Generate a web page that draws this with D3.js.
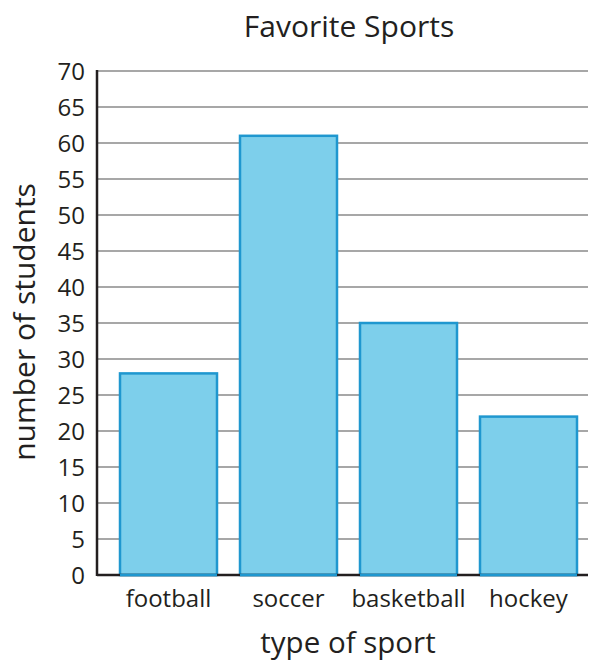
<!DOCTYPE html>
<html lang="en">
<head>
    <meta charset="UTF-8">
    <title>Favorite Sports</title>
    <script src="https://d3js.org/d3.v7.min.js"></script>
    <style>
        body { margin: 0; background: #fff; }
        text { font-family: "Open Sans", sans-serif; fill: #231f20; }
    </style>
</head>
<body>
    <div id="chart"></div>
    <script>
        const sports = ["football", "soccer", "basketball", "hockey"];
        const students = [28, 61, 35, 22];
        const yTicks = [0, 5, 10, 15, 20, 25, 30, 35, 40, 45, 50, 55, 60, 65, 70];

        const W = 590, H = 663;
        const plotLeft = 97, plotRight = 588, plotTop = 71, plotBottom = 575;

        const svg = d3.select("#chart")
            .append("svg")
            .attr("width", W)
            .attr("height", H);

        const y = d3.scaleLinear().domain([0, 70]).range([plotBottom, plotTop]);
        const x = d3.scaleBand()
            .domain(sports)
            .range([plotLeft, 600])
            .paddingInner(23 / 120)
            .paddingOuter(23 / 120);

        // grid lines
        svg.append("g")
            .selectAll("line")
            .data(yTicks.filter(d => d > 0))
            .join("line")
            .attr("x1", plotLeft)
            .attr("x2", plotRight)
            .attr("y1", d => y(d))
            .attr("y2", d => y(d))
            .attr("stroke", "#8a8a8a")
            .attr("stroke-width", 1.3);

        // y tick labels
        svg.append("g")
            .selectAll("text")
            .data(yTicks)
            .join("text")
            .attr("x", 85)
            .attr("y", d => y(d))
            .attr("dy", "0.36em")
            .attr("text-anchor", "end")
            .style("font-size", "24px")
            .text(d => d);

        // bars
        svg.append("g")
            .selectAll("rect")
            .data(sports)
            .join("rect")
            .attr("x", d => x(d))
            .attr("y", (d, i) => y(students[i]))
            .attr("width", x.bandwidth())
            .attr("height", (d, i) => y(0) - y(students[i]))
            .attr("fill", "#7dcfeb")
            .attr("stroke", "#1f97cf")
            .attr("stroke-width", 2.5);

        // axes lines
        svg.append("line")
            .attr("x1", plotLeft).attr("x2", plotLeft)
            .attr("y1", plotTop - 1).attr("y2", plotBottom + 1)
            .attr("stroke", "#231f20").attr("stroke-width", 2.5);
        svg.append("line")
            .attr("x1", plotLeft).attr("x2", plotRight)
            .attr("y1", plotBottom).attr("y2", plotBottom)
            .attr("stroke", "#231f20").attr("stroke-width", 2.5);
        // bar bottoms over the baseline
        svg.append("g")
            .selectAll("line")
            .data(sports)
            .join("line")
            .attr("x1", d => x(d))
            .attr("x2", d => x(d) + x.bandwidth())
            .attr("y1", plotBottom).attr("y2", plotBottom)
            .attr("stroke", "#1f97cf").attr("stroke-width", 2.5);

        // x tick labels
        svg.append("g")
            .selectAll("text")
            .data(sports)
            .join("text")
            .attr("x", d => x(d) + x.bandwidth() / 2)
            .attr("y", 607)
            .attr("text-anchor", "middle")
            .style("font-size", "24px")
            .text(d => d);

        // title
        svg.append("text")
            .attr("x", 349)
            .attr("y", 37)
            .attr("text-anchor", "middle")
            .style("font-size", "30px")
            .text("Favorite Sports");

        // axis titles
        svg.append("text")
            .attr("x", 348)
            .attr("y", 653)
            .attr("text-anchor", "middle")
            .style("font-size", "29.5px")
            .text("type of sport");

        svg.append("text")
            .attr("transform", "translate(35,322) rotate(-90)")
            .attr("text-anchor", "middle")
            .style("font-size", "30px")
            .text("number of students");
    </script>
</body>
</html>
